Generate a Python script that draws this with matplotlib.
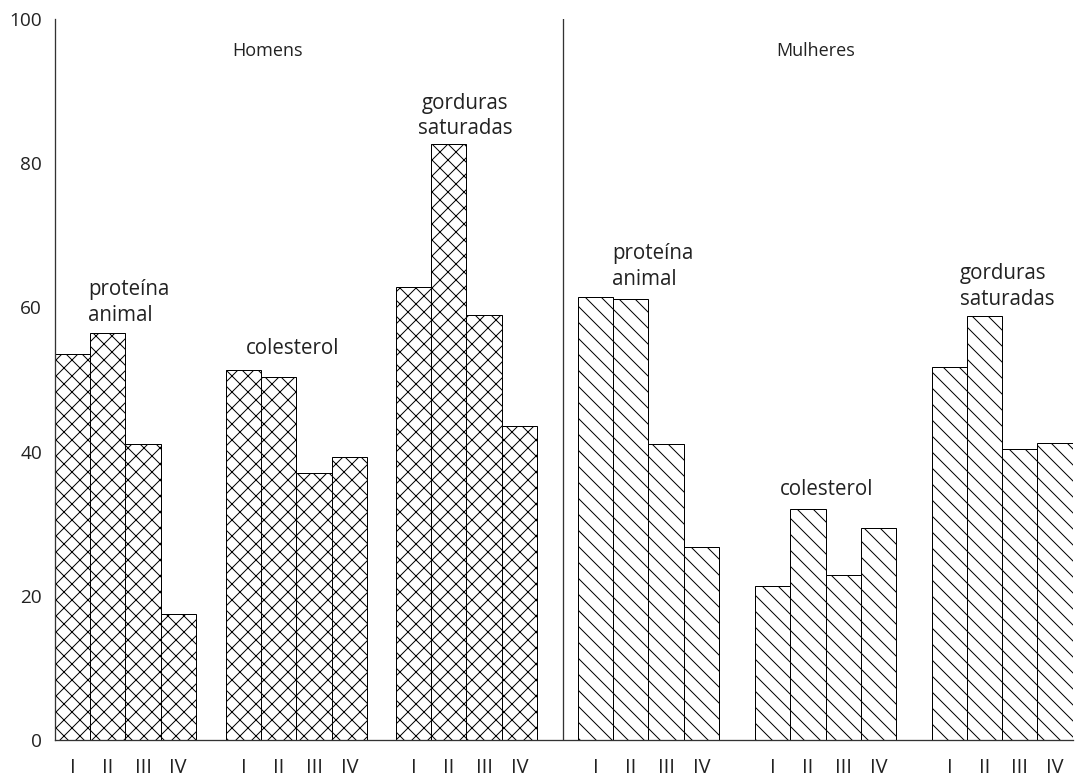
import matplotlib.pyplot as plt

# valores (%)
quartis = ['I', 'II', 'III', 'IV']
homens_proteina = [53.5, 56.5, 41.0, 17.5]
homens_colesterol = [51.3, 50.3, 37.0, 39.2]
homens_gorduras = [62.8, 82.6, 59.0, 43.5]
mulheres_proteina = [61.4, 61.1, 41.0, 26.7]
mulheres_colesterol = [21.3, 32.0, 22.9, 29.4]
mulheres_gorduras = [51.8, 58.8, 40.3, 41.2]

grupos = [homens_proteina, homens_colesterol, homens_gorduras,
          mulheres_proteina, mulheres_colesterol, mulheres_gorduras]
hatches = ['x', 'x', 'x', '\\', '\\', '\\']
inicio = [0, 4.86, 9.69, 14.86, 19.89, 24.91]

# dpi baixo para deixar a hachura mais densa; K converte px -> pt
DPI = 48
K = 72 / DPI

plt.rcParams['font.family'] = ['Open Sans', 'DejaVu Sans']
plt.rcParams['hatch.linewidth'] = 1.0 * K
cor_texto = '#222222'

fig = plt.figure(figsize=(1075 / DPI, 777 / DPI), dpi=DPI)
ax = fig.add_axes([55 / 1075, 37 / 777, 1018 / 1075, 721 / 777])

xs, labels = [], []
for x0, valores, h in zip(inicio, grupos, hatches):
    pos = [x0 + i + 0.5 for i in range(len(valores))]
    ax.bar(pos, valores, width=1.0, facecolor='white', edgecolor='black',
           linewidth=1.0 * K, hatch=h)
    xs += pos
    labels += quartis

ax.axvline(14.43, color='#333333', lw=1.3 * K)

ax.set_xlim(0, 28.92)
ax.set_ylim(0, 100)
ax.set_yticks([0, 20, 40, 60, 80, 100])
ax.set_xticks(xs)
ax.set_xticklabels(labels)
ax.tick_params(length=0, labelsize=19 * K, colors=cor_texto)
ax.tick_params(axis='y', pad=13 * K)
ax.tick_params(axis='x', pad=18 * K, labelsize=20 * K)
for s in ['top', 'right']:
    ax.spines[s].set_visible(False)
for s in ['left', 'bottom']:
    ax.spines[s].set_color('#333333')
    ax.spines[s].set_linewidth(1.3 * K)

fs = 18 * K
fs2 = 20.5 * K
ls = 1.3
ax.text(6.05, 95.6, 'Homens', ha='center', va='center', fontsize=fs, color=cor_texto)
ax.text(21.6, 95.6, 'Mulheres', ha='center', va='center', fontsize=fs, color=cor_texto)

ax.text(0.94, 58.1, 'proteína\nanimal', ha='left', va='baseline', fontsize=fs2,
        color=cor_texto, linespacing=ls)
ax.text(6.76, 53.5, 'colesterol', ha='center', va='baseline', fontsize=fs2, color=cor_texto)
ax.text(11.65, 84.0, 'gorduras\nsaturadas', ha='center', va='baseline', fontsize=fs2,
        color=cor_texto, linespacing=ls)
ax.text(15.82, 63.1, 'proteína\nanimal', ha='left', va='baseline', fontsize=fs2,
        color=cor_texto, linespacing=ls)
ax.text(21.93, 34.0, 'colesterol', ha='center', va='baseline', fontsize=fs2, color=cor_texto)
ax.text(25.7, 60.4, 'gorduras\nsaturadas', ha='left', va='baseline', fontsize=fs2,
        color=cor_texto, linespacing=ls)

fig.savefig('out.png', dpi=DPI)
